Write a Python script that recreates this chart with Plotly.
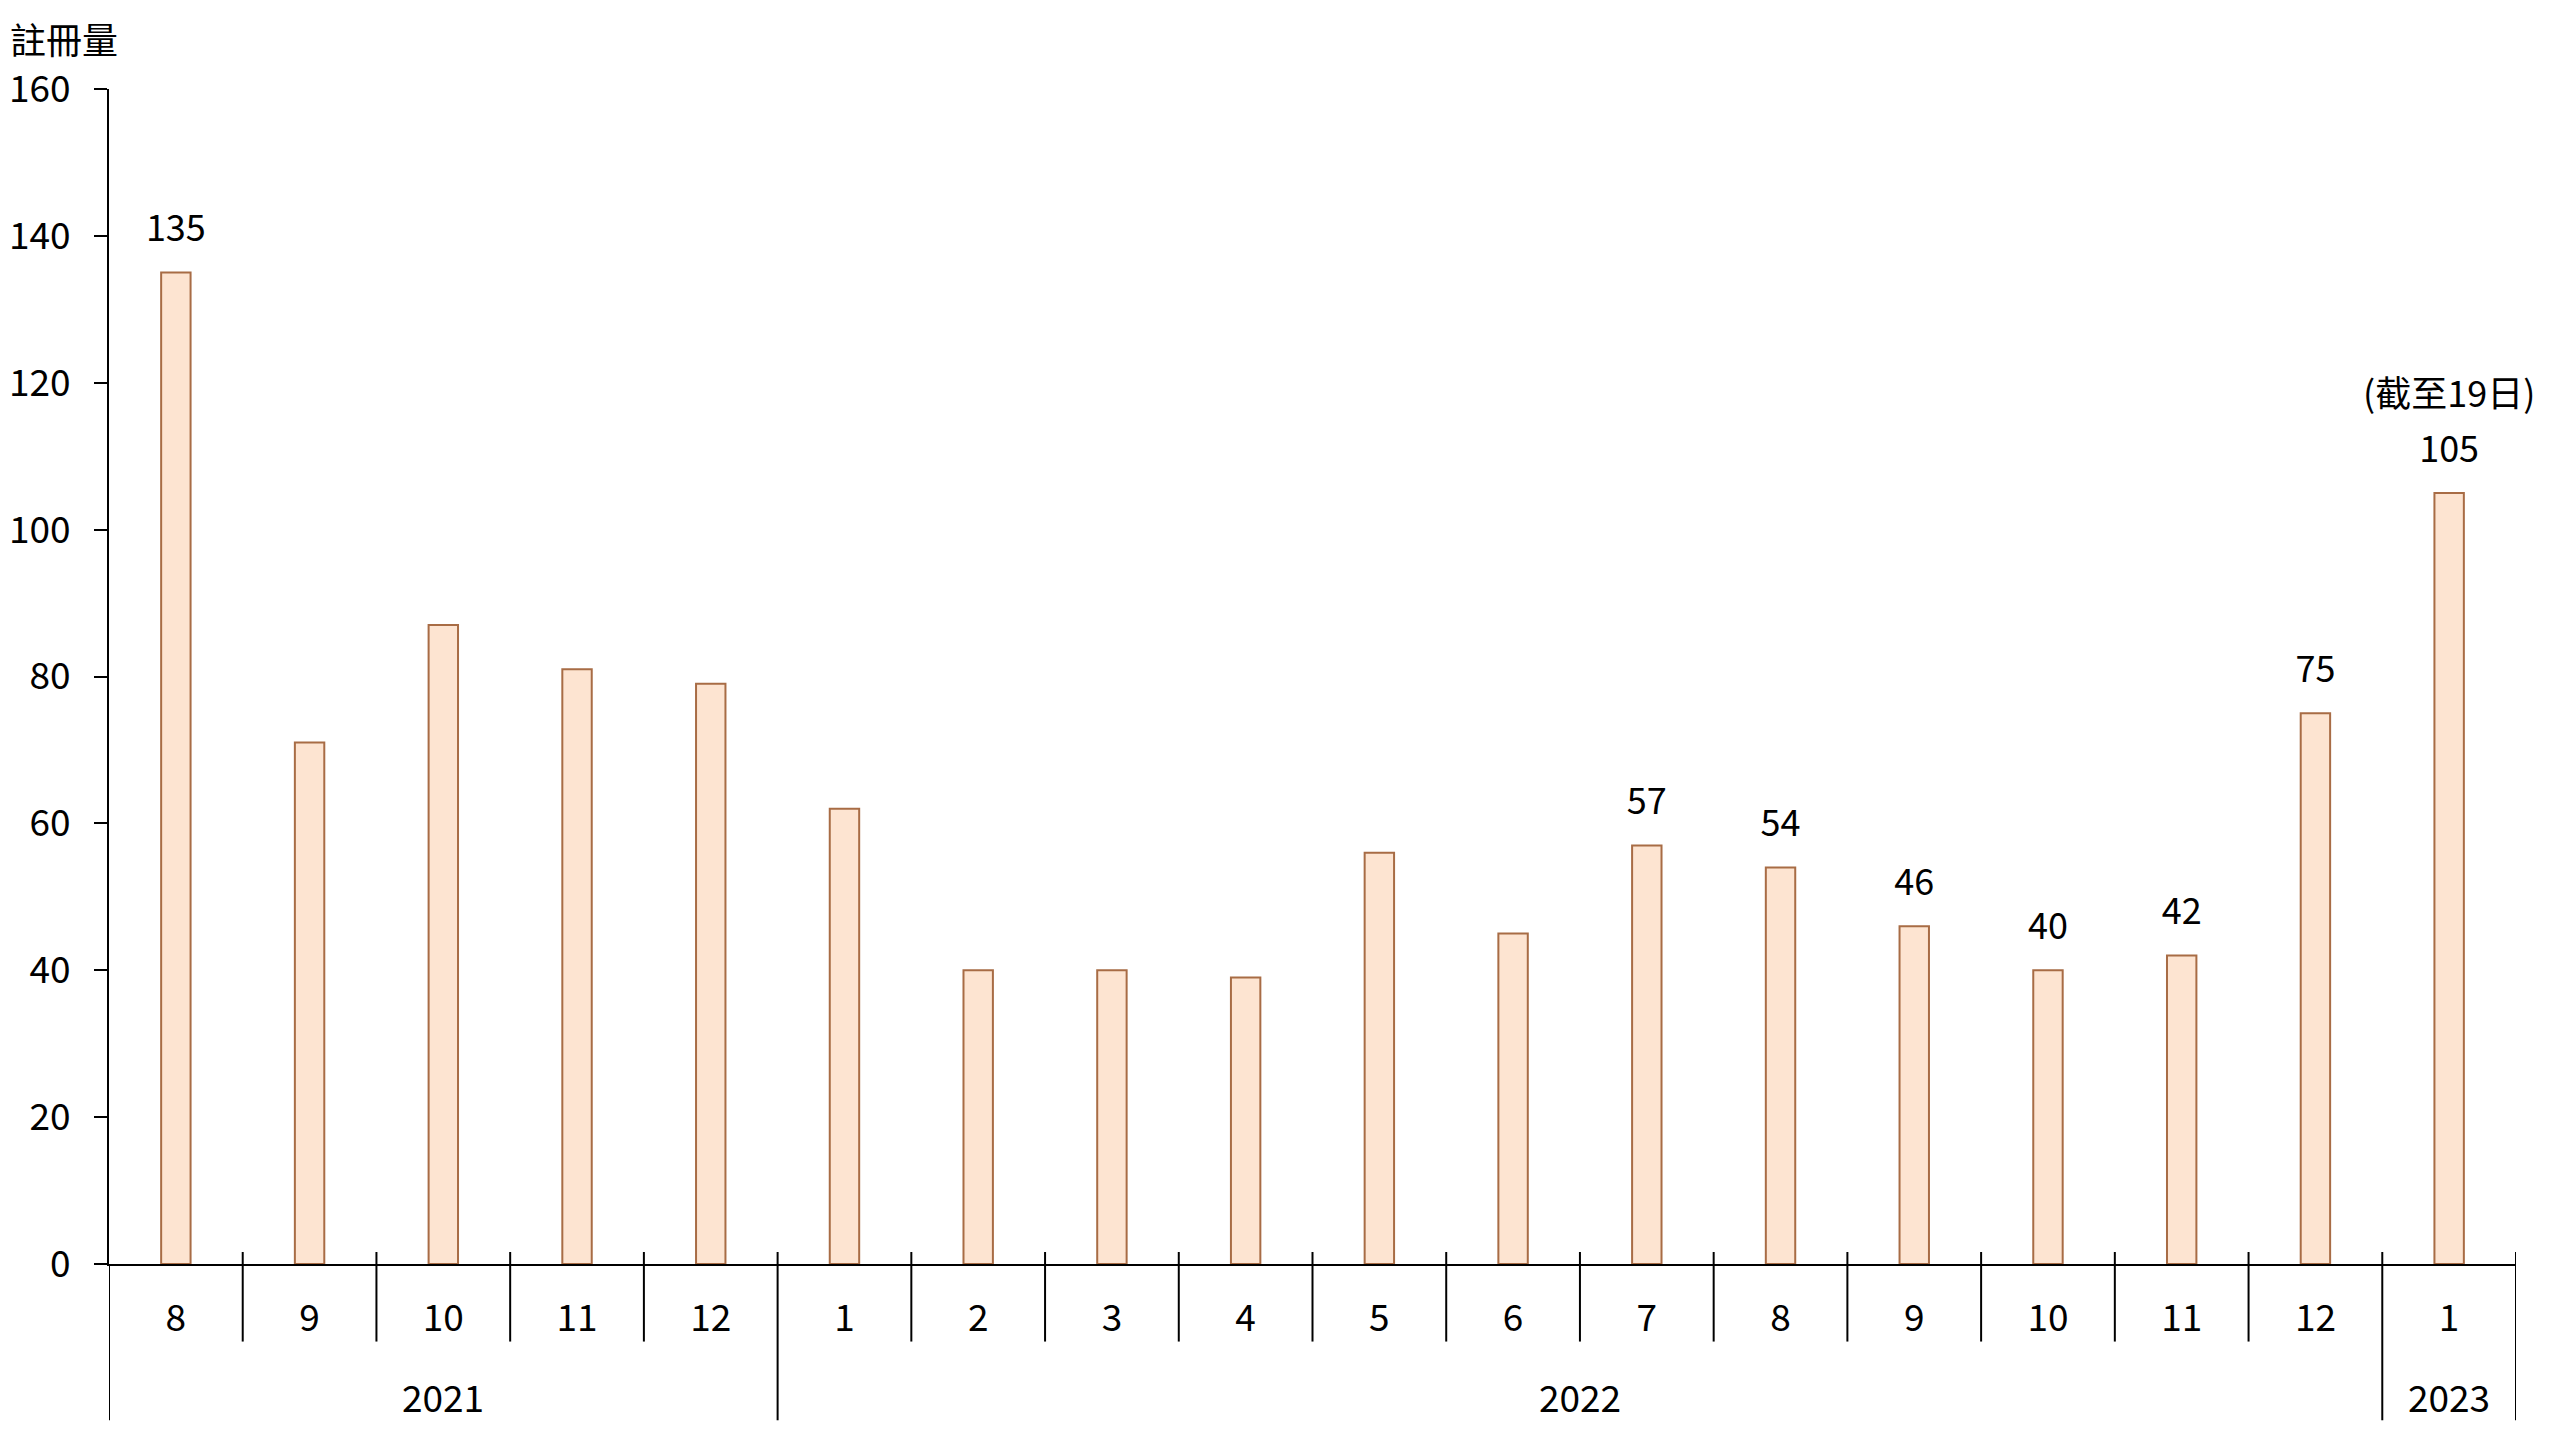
import plotly.graph_objects as go

years=["2021"]*5+["2022"]*12+["2023"]
months=["8","9","10","11","12","1","2","3","4","5","6","7","8","9","10","11","12","1"]
counts=[135,71,87,81,79,62,40,40,39,56,45,57,54,46,40,42,75,105]
labels=["135","","","","","","","","","","","57","54","46","40","42","75","105"]
note="(截至19日)"

FONT="Noto Sans CJK TC, Noto Sans, sans-serif"
FILL="#FDE4D1"
EDGE="#A86C45"

# one unique category per month, shown with the month number only
keys=[f"{y}-{m}" for y,m in zip(years,months)]

fig=go.Figure()
fig.add_trace(go.Bar(x=keys,y=counts,marker=dict(color=FILL,line=dict(color=EDGE,width=2)),
                     width=0.22,showlegend=False,hoverinfo="y"))
fig.add_trace(go.Scatter(x=keys,y=counts,mode="markers+text",text=labels,textposition="top center",
                         marker=dict(size=34,opacity=0),textfont=dict(size=36,color="#000000",family=FONT),
                         showlegend=False,hoverinfo="skip",cliponaxis=False))
fig.add_annotation(text=note,x=keys[-1],y=counts[-1],yshift=102,showarrow=False,yanchor="middle",
                   font=dict(size=36,color="#000000",family=FONT))

# month boundary ticks (crossing the axis) and year dividers
n=len(keys)
for i in range(n+1):
    new_year=i==0 or i==n or years[i]!=years[i-1]
    fig.add_shape(type="line",xref="x",yref="paper",x0=i-0.5,x1=i-0.5,
                  y0=0 if i==0 else 0.0102,y1=-0.133 if new_year else -0.066,
                  line=dict(color="#000000",width=2))
# year labels centred under their months
for y in dict.fromkeys(years):
    idx=[i for i,v in enumerate(years) if v==y]
    fig.add_annotation(text=y,xref="x",yref="paper",x=(idx[0]+idx[-1])/2,y=-0.1123,showarrow=False,
                       font=dict(size=37,color="#000000",family=FONT),yanchor="middle")

fig.update_layout(
    width=2544,height=1424,
    paper_bgcolor="#FFFFFF",plot_bgcolor="#FFFFFF",
    margin=dict(l=101,r=36,t=81,b=168),
    font=dict(family=FONT,size=37,color="#000000"),
    xaxis=dict(type="category",tickvals=keys,ticktext=months,range=[-0.5,n-0.5],automargin=False,
               showline=True,linecolor="#000000",linewidth=2,ticks="",ticklabelstandoff=21,
               tickfont=dict(size=37,color="#000000",family=FONT),showgrid=False,zeroline=False),
    yaxis=dict(range=[0,160],dtick=20,showline=True,linecolor="#000000",linewidth=2,automargin=False,
               ticks="outside",ticklen=13,tickcolor="#000000",tickwidth=2,
               tickfont=dict(size=37,color="#000000",family=FONT),ticklabelstandoff=16,
               showgrid=False,zeroline=False),
)
fig.add_annotation(text="註冊量",xref="paper",yref="paper",x=-0.0187,y=1.043,showarrow=False,
                   font=dict(size=36,color="#000000",family=FONT),xanchor="center",yanchor="middle")

fig.write_html("out.html")
